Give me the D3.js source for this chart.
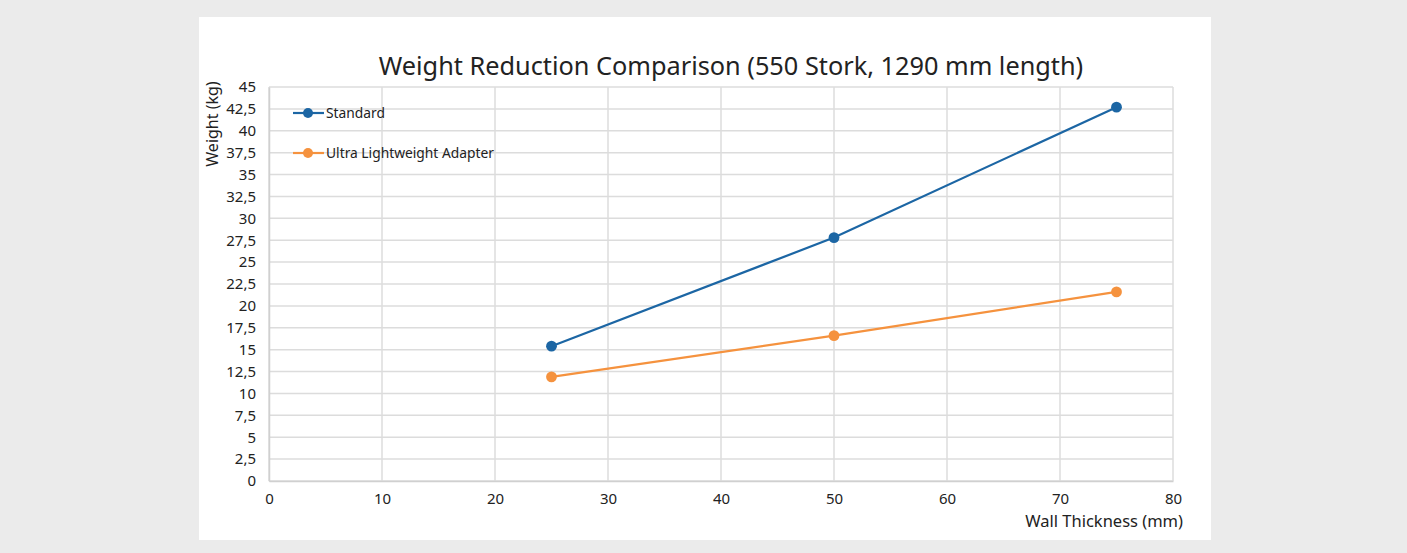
<!DOCTYPE html>
<html><head><meta charset="utf-8">
<script src="https://cdn.jsdelivr.net/npm/d3@7"></script>
<style>
html,body{margin:0;padding:0;background:#ebebeb;}
svg{display:block;}
text{font-family:"Noto Sans","Open Sans",sans-serif;fill:#222;}
</style></head>
<body>
<svg id="c" width="1407" height="553"></svg>
<script>
const wallThickness = [25, 50, 75];
const standard = [15.4, 27.8, 42.7];
const ultraLight = [11.9, 16.6, 21.6];
const seriesNames = ["Standard", "Ultra Lightweight Adapter"];
const xTicks = [0,10,20,30,40,50,60,70,80];
const yTicks = [0,2.5,5,7.5,10,12.5,15,17.5,20,22.5,25,27.5,30,32.5,35,37.5,40,42.5,45];
const colors = ["#1c66a4", "#f5923e"];

const svg = d3.select("#c");
svg.append("rect").attr("x",199).attr("y",17).attr("width",1012).attr("height",523).attr("fill","#fff");

const L=269, R=1173, T=87, B=481;
const x = d3.scaleLinear().domain([0,80]).range([L,R]);
const y = d3.scaleLinear().domain([0,45]).range([B,T]);
const fmt = d => String(d).replace(".", ",");

// grid
svg.append("g").selectAll("line").data(yTicks).join("line")
  .attr("x1",L).attr("x2",R).attr("y1",d=>y(d)).attr("y2",d=>y(d))
  .attr("stroke","#dcdcdc").attr("stroke-width",1.5);
svg.append("g").selectAll("line").data(xTicks).join("line")
  .attr("y1",T).attr("y2",B).attr("x1",d=>x(d)).attr("x2",d=>x(d))
  .attr("stroke","#dcdcdc").attr("stroke-width",1.5);

// axes
const yAxis = svg.append("g").attr("transform",`translate(${L},0)`)
  .call(d3.axisLeft(y).tickValues(yTicks).tickFormat(fmt).tickSize(0).tickPadding(13));
yAxis.select(".domain").attr("stroke","#d0d0d0").attr("stroke-width",1.5);
yAxis.selectAll("text").attr("font-size",15).style("fill","#222");
const xAxis = svg.append("g").attr("transform",`translate(0,${B})`)
  .call(d3.axisBottom(x).tickValues(xTicks).tickSize(0).tickPadding(12));
xAxis.select(".domain").attr("stroke","#d0d0d0").attr("stroke-width",1.5);
xAxis.selectAll("text").attr("font-size",15).style("fill","#222");

// title
svg.append("text").attr("x",731).attr("y",75).attr("text-anchor","middle")
  .attr("font-size",25.3).text("Weight Reduction Comparison (550 Stork, 1290 mm length)");
// axis titles
svg.append("text").attr("transform","translate(218,124) rotate(-90)").attr("text-anchor","middle")
  .attr("font-size",16).text("Weight (kg)");
svg.append("text").attr("x",1183).attr("y",527).attr("text-anchor","end")
  .attr("font-size",16.5).text("Wall Thickness (mm)");

// series
const allSeries = [standard, ultraLight];
const line = d3.line().x((d,i)=>x(wallThickness[i])).y(d=>y(d));
allSeries.forEach((s,k)=>{
  svg.append("path").datum(s).attr("d",line).attr("fill","none")
    .attr("stroke",colors[k]).attr("stroke-width",2.2);
  svg.append("g").selectAll("circle").data(s).join("circle")
    .attr("cx",(d,i)=>x(wallThickness[i])).attr("cy",d=>y(d)).attr("r",5.4)
    .attr("fill",colors[k]);
});

// legend
const legY = [113, 153];
seriesNames.forEach((n,k)=>{
  svg.append("line").attr("x1",293).attr("x2",324).attr("y1",legY[k]).attr("y2",legY[k])
    .attr("stroke",colors[k]).attr("stroke-width",2.2);
  svg.append("circle").attr("cx",308).attr("cy",legY[k]).attr("r",5).attr("fill",colors[k]);
  svg.append("text").attr("x",326).attr("y",legY[k]+5).attr("font-size",13.8).text(n);
});
</script>
</body></html>
